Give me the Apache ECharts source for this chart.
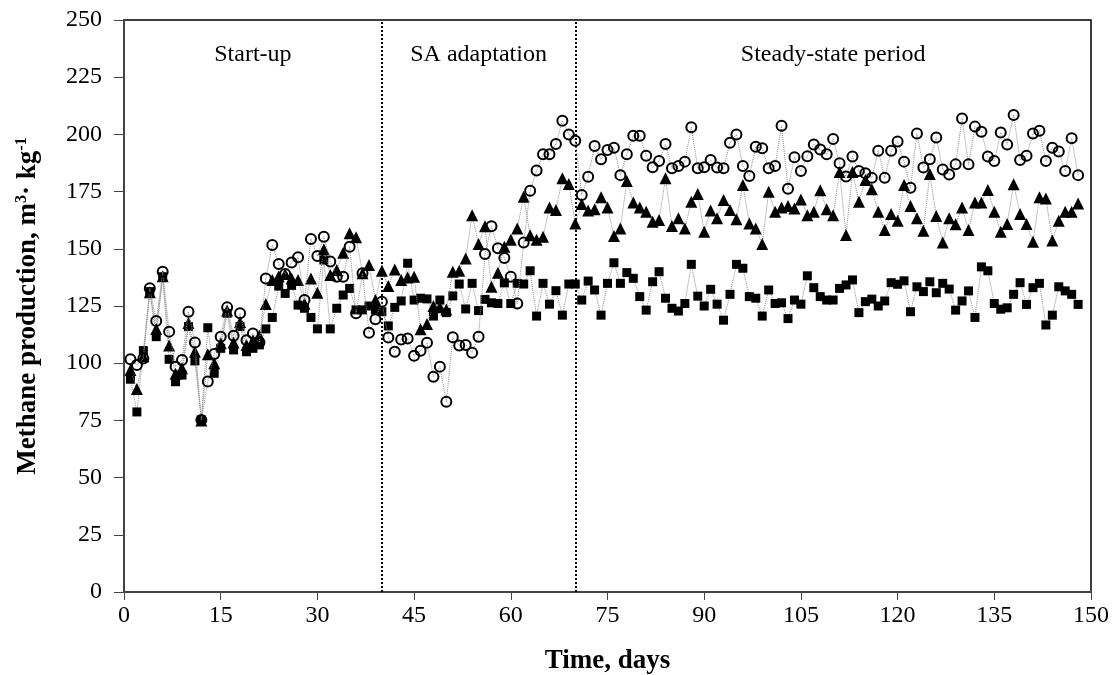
<!DOCTYPE html>
<html>
<head>
    <meta charset="utf-8">
    <title>Methane production</title>
    <script src="https://cdn.jsdelivr.net/npm/echarts@6.0.0/dist/echarts.min.js"></script>
    <style>
        html, body { margin: 0; padding: 0; background: #fff; }
        #chart { width: 1114px; height: 675px; }
    </style>
</head>
<body>
<div id="chart"></div>
<script>
    // sampling days: one point a day starting at day 1
    var firstDay = 1;

    // open circles
    var circleVals = [
        101.7, 99.2, 102, 132.8, 118.4, 140, 113.8, 98.5, 101.4, 122.5, 109, 75.2, 92, 104, 111.6, 124.4, 112, 121.8, 110, 113, 109,
        137, 151.7, 143.4, 139, 144, 146.3, 127.6, 154.3, 146.9, 155.3, 144.4, 137.8, 137.8, 150.9, 121.8, 139.3, 113.3, 119.2, 126.9,
        111.2, 105, 110.4, 110.8, 103.3, 105.4, 108.9, 94.1, 98.5, 83.2, 111.3, 107.7, 108, 104.6, 111.6,
        147.7, 159.9, 150.2, 146, 137.8, 126.1, 152.7, 175.4, 184.2, 191.3, 191.3, 195.8, 206, 200, 197.2,
        173.5, 181.5, 194.9, 189.1, 193.2, 194.2, 182.2, 191.3, 199.4, 199.4, 190.7, 185.6, 188.4, 195.8, 185.2, 186.2, 188.1, 203.1, 185.2, 185.6,
        188.8, 185.5, 185.2, 196.4, 200, 186.2, 181.8, 194.6, 193.9, 185.2, 186.2, 203.8, 176.2, 190, 184, 190.5, 195.6, 193.4, 191.3, 198,
        187.4, 181.6, 190.3, 184, 183, 181, 192.9, 181, 192.9, 196.9, 188.1, 176.7, 200.4, 185.5, 189.1, 198.6, 184.7, 182.5, 186.9,
        207, 186.9, 203.4, 201.2, 190.3, 188.4, 200.8, 195.6, 208.5, 188.8, 190.7, 200.4, 201.6, 188.4, 194.2, 192.5, 184, 198.3, 182.2
    ];

    // filled triangles
    var triangleVals = [
        97, 88.7, 103, 131, 115, 138, 107.7, 95.4, 97.8, 117.6, 105, 75, 103.9, 100, 108.7, 123, 109, 118, 108, 110, 112,
        125.9, 136.4, 138, 139, 137, 136.4, 126, 137, 130.8, 149.8, 138.5, 140.7, 148.3, 156.8, 155, 139.3, 142.9, 127.6, 140.4,
        133.7, 141, 136.4, 137.5, 137.8, 114.8, 117.1, 125, 124.4, 123.5, 140, 140.4, 145.8, 164.7, 152.1,
        159.9, 133.4, 139.5, 150.9, 154, 158.9, 172.8, 155.9, 154, 155.3, 168, 167, 180.8, 178.3, 161.1,
        169.6, 166.7, 167.3, 172.5, 168.1, 155.6, 158.9, 179.6, 170.2, 168.1, 166.2, 161.8, 162.6, 180.8, 160, 163.3, 158.9, 170.6, 174, 157.5,
        166.7, 163.3, 171.3, 167, 162.9, 177.9, 161.1, 158.9, 152.1, 174.9, 166.2, 168.1, 168.7, 167.6, 171.6, 164.7, 166.2, 175.6, 167.3, 164.7,
        183.6, 156, 183.6, 170.6, 180.1, 176, 166.2, 158.2, 165.2, 162.3, 177.9, 168.7, 163.3, 157.9, 182.7, 164.3, 152.7, 163.3, 160.7,
        168.1, 158.2, 170.2, 170.2, 175.7, 166.2, 157.5, 160.8, 178.2, 165.2, 160.8, 153.1, 172.5, 172, 153.6, 162.3, 166.2, 166.2, 169.8
    ];

    // filled squares
    var squareVals = [
        93, 78.7, 105.5, 131.3, 111.6, 137.8, 101.7, 91.9, 94.8, 116, 101, 75.2, 115.5, 95.6, 106.5, 121.8, 105.8, 116, 105, 106.5, 108,
        115, 120, 133.7, 130.5, 134, 125.4, 124, 120, 115, 145.1, 115, 124, 129.8, 132.7, 123.3, 123.3, 125, 123.3, 122.5,
        116.3, 124.4, 127.2, 143.7, 127.6, 128.4, 128.1, 120.6, 127.6, 122.1, 129.4, 134.6, 123.7, 134.9, 123,
        127.9, 126.4, 126.1, 135.1, 126.1, 134.9, 134.6, 140.4, 120.6, 134.9, 125.8, 131.7, 121, 134.6, 134.6,
        127.6, 135.9, 132, 121, 134.9, 143.9, 134.9, 139.6, 137.1, 129.1, 123.2, 135.6, 140, 128.4, 124, 122.8, 126.1, 143.2, 129.3, 125,
        132.3, 125.8, 118.8, 130.1, 143.2, 141.5, 129.1, 128.4, 120.6, 132, 126.1, 126.4, 119.5, 127.6, 125.8, 138.2, 133, 129.1, 127.6, 127.6,
        132.7, 134.2, 136.4, 122.1, 126.9, 128, 125, 127.2, 135.2, 134.5, 136, 122.5, 133.4, 131.3, 135.6, 130.8, 134.9, 132.4, 123.2,
        127.2, 131.6, 120, 142.1, 140.4, 126.1, 123.6, 124.2, 130.1, 135.2, 125.7, 133, 134.9, 116.7, 121, 133.4, 131.6, 130.1, 125.7
    ];

    // period boundaries and names
    var phaseBreaks = [0, 40, 70, 150];
    var phaseNames = ['Start-up', 'SA adaptation', 'Steady-state period'];

    var xTicks = { min: 0, max: 150, interval: 15 };
    var yTicks = { min: 0, max: 250, interval: 25 };

    function pairs(vals) {
        return vals.map(function (v, i) { return [firstDay + i, v]; });
    }

    var font = 'Liberation Serif';
    var chart = echarts.init(document.getElementById('chart'));

    var dotLine = { type: 'dotted', width: 1, color: '#8c8c8c' };

    var phaseAreas = phaseNames.map(function (n, i) {
        return [{ xAxis: phaseBreaks[i], name: n }, { xAxis: phaseBreaks[i + 1] }];
    });

    var option = {
        animation: false,
        backgroundColor: '#fff',
        grid: {
            left: 124, right: 23, top: 20, bottom: 83,
            outerBoundsMode: 'none',
            containLabel: false,
            show: true, borderColor: '#000', borderWidth: 1.5, backgroundColor: 'transparent'
        },
        xAxis: {
            type: 'value',
            min: xTicks.min, max: xTicks.max, interval: xTicks.interval,
            name: 'Time, days',
            nameLocation: 'middle',
            nameGap: 56,
            nameTextStyle: { fontFamily: font, fontWeight: 'bold', fontSize: 27, color: '#000' },
            axisLine: { show: true, lineStyle: { color: '#444', width: 2 } },
            axisTick: { show: true, inside: false, length: 8, lineStyle: { color: '#444', width: 1 } },
            axisLabel: { fontFamily: font, fontSize: 24, color: '#000', margin: 12 },
            splitLine: { show: false }
        },
        yAxis: {
            type: 'value',
            min: yTicks.min, max: yTicks.max, interval: yTicks.interval,
            name: 'Methane production, m{sup|3}· kg{sup|-1}',
            nameLocation: 'middle',
            nameGap: 82,
            nameTextStyle: {
                fontFamily: font, fontWeight: 'bold', fontSize: 27, color: '#000',
                rich: {
                    sup: { fontFamily: font, fontWeight: 'bold', fontSize: 16, color: '#000', verticalAlign: 'top', padding: [0, 0, 12, 0] }
                }
            },
            axisLine: { show: true, lineStyle: { color: '#444', width: 2 } },
            axisTick: { show: true, inside: false, length: 10, lineStyle: { color: '#444', width: 1 } },
            axisLabel: { fontFamily: font, fontSize: 24, color: '#000', margin: 22 },
            splitLine: { show: false }
        },
        series: [
            {
                name: 'square',
                type: 'line',
                data: pairs(squareVals),
                symbol: 'rect',
                symbolSize: 9,
                itemStyle: { color: '#000' },
                lineStyle: dotLine,
                z: 3
            },
            {
                name: 'triangle',
                type: 'line',
                data: pairs(triangleVals),
                symbol: 'triangle',
                symbolSize: 12,
                itemStyle: { color: '#000' },
                lineStyle: dotLine,
                z: 4
            },
            {
                name: 'circle',
                type: 'line',
                data: pairs(circleVals),
                symbol: 'circle',
                symbolSize: 10,
                itemStyle: { color: 'rgba(0,0,0,0)', borderColor: '#000', borderWidth: 2 },
                lineStyle: dotLine,
                z: 5,
                markLine: {
                    silent: true,
                    symbol: 'none',
                    label: { show: false },
                    lineStyle: { type: 'dotted', color: '#000', width: 2 },
                    data: [{ xAxis: phaseBreaks[1] }, { xAxis: phaseBreaks[2] }]
                },
                markArea: {
                    silent: true,
                    itemStyle: { color: 'rgba(0,0,0,0)' },
                    label: {
                        show: true,
                        position: 'insideTop',
                        distance: 23,
                        fontFamily: font, fontSize: 24, color: '#000'
                    },
                    data: phaseAreas
                }
            }
        ]
    };

    chart.setOption(option);

    window.onresize = function () {
        chart.resize();
    };
</script>
</body>
</html>
